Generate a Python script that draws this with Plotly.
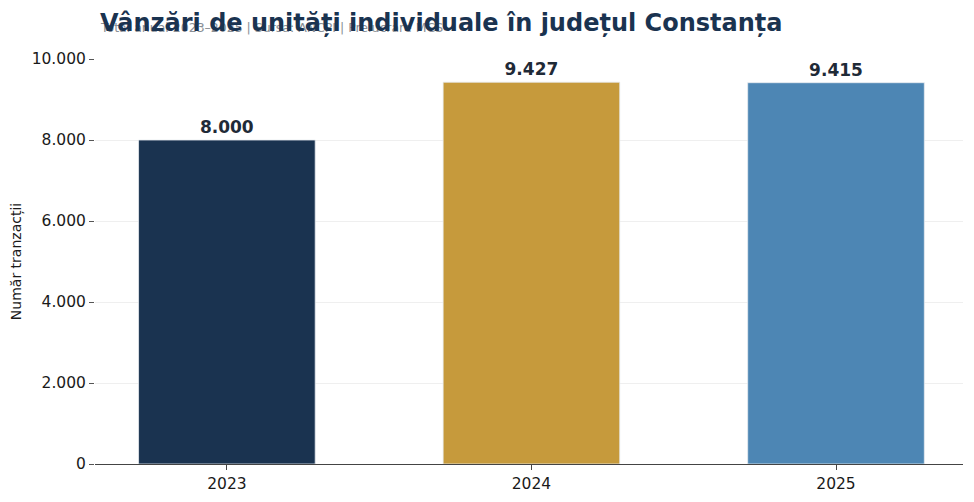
import plotly.graph_objects as go

# date
years = ['2023', '2024', '2025']
tranzactii = [8000, 9427, 9415]
culori = ['#1a3350', '#c69a3c', '#4d86b4']
etichete = ['8.000', '9.427', '9.415']
y_ticks = [0, 2000, 4000, 6000, 8000, 10000]
y_labels = ['0', '2.000', '4.000', '6.000', '8.000', '10.000']

fig = go.Figure()
fig.add_trace(
    go.Bar(
        x=years,
        y=tranzactii,
        width=0.58,
        marker_color=culori,
        marker_line=dict(color='#e8ecf0', width=0.8),
        text=etichete,
        textposition='outside',
        textfont=dict(family='DejaVu Sans', size=17, color='#1f2a37', weight='bold'),
        cliponaxis=False,
        showlegend=False,
    )
)

fig.update_layout(
    width=974,
    height=502,
    margin=dict(l=87, r=19, t=51, b=46),
    paper_bgcolor='white',
    plot_bgcolor='white',
    font=dict(family='DejaVu Sans', size=15.5, color='#1a1a1a'),
)

# titlu + subtitlu (suprapuse ca in original)
fig.add_annotation(
    text='Total anual 2023–2025 | Sursa: ANCPI | Prelucrare MCS',
    xref='paper', yref='paper', x=0.004, y=1.0, yshift=32,
    xanchor='left', yanchor='middle', showarrow=False,
    font=dict(size=12.5, color='#8a8f96'),
)
fig.add_annotation(
    text='<b>Vânzări de unități individuale în județul Constanța</b>',
    xref='paper', yref='paper', x=0.004, y=1.0, yshift=36,
    xanchor='left', yanchor='middle', showarrow=False,
    font=dict(size=24, color='#1a3350'),
)

fig.update_xaxes(
    type='category',
    range=[-0.433, 2.417],
    showline=True, linecolor='#444444', linewidth=1.2,
    ticks='outside', ticklen=5, tickcolor='#444444',
    showgrid=False, automargin=False,
)
fig.update_yaxes(
    range=[0, 10000],
    tickvals=y_ticks, ticktext=y_labels,
    ticks='outside', ticklen=5, tickcolor='#555555',
    showgrid=True, gridcolor='#efefef', gridwidth=1,
    showline=False, zeroline=False, automargin=False,
    title=dict(text='Număr tranzacții', font=dict(size=14), standoff=22),
)

fig.write_html('out.html')
